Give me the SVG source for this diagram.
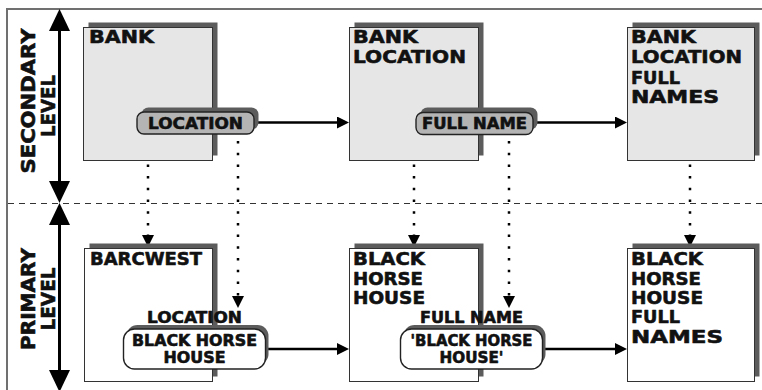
<svg xmlns="http://www.w3.org/2000/svg" width="762" height="390" viewBox="0 0 762 390">
  <style>
    .frame { fill: none; stroke: #707070; stroke-width: 2; }
    .divider { fill: none; stroke: #333; stroke-width: 1; stroke-dasharray: 6 5; }
    .shadow { fill: #5c5c5c; }
    .box2 { fill: #e6e6e6; stroke: #333; stroke-width: 1; }
    .box1 { fill: #ffffff; stroke: #333; stroke-width: 1; }
    .pill2 { fill: #b4b4b4; stroke: #222; stroke-width: 1.4; }
    .pill1 { fill: #ffffff; stroke: #222; stroke-width: 1.4; }
    .t { font-family: "DejaVu Sans", "Liberation Sans", sans-serif; font-weight: bold; fill: #111; stroke: #111; stroke-width: 0.6; stroke-linejoin: round; }
    .big { font-size: 18px; }
    .lbl { font-size: 16px; text-anchor: middle; }
    .val { font-size: 15px; text-anchor: middle; }
    .side { font-size: 19px; text-anchor: middle; }
    .flow { fill: none; stroke: #000; stroke-width: 2.5; marker-end: url(#head); }
    .dots { fill: none; stroke: #000; stroke-width: 2.5; stroke-dasharray: 2.5 9.2; marker-end: url(#head); }
    .axis { fill: none; stroke: #000; stroke-width: 3; marker-start: url(#bighead); marker-end: url(#bighead); }
  </style>
  <defs>
    <marker id="head" viewBox="0 0 12 12" markerWidth="12" markerHeight="12" refX="0" refY="6" orient="auto" markerUnits="userSpaceOnUse">
      <path d="M0,0 L12,6 L0,12 Z" fill="#000"/>
    </marker>
    <marker id="bighead" viewBox="0 0 22 21" markerWidth="22" markerHeight="21" refX="0" refY="10.5" orient="auto-start-reverse" markerUnits="userSpaceOnUse">
      <path d="M0,0 L22,10.5 L0,21 Z" fill="#000"/>
    </marker>
  </defs>

  <!-- frame and level divider -->
  <g id="frame">
    <path class="frame" d="M7,390 V9 H762"/>
    <line class="divider" x1="8" y1="203.5" x2="762" y2="203.5"/>
  </g>

  <!-- level axis -->
  <g id="axis">
    <line class="axis" x1="59.5" y1="31" x2="59.5" y2="181"/>
    <line class="axis" x1="59.5" y1="225" x2="59.5" y2="370"/>
    <text class="t side" transform="translate(35,101) rotate(-90)" textLength="145" lengthAdjust="spacingAndGlyphs">SECONDARY</text>
    <text class="t side" transform="translate(55,106) rotate(-90)" textLength="62" lengthAdjust="spacingAndGlyphs">LEVEL</text>
    <text class="t side" transform="translate(35,299) rotate(-90)" textLength="102" lengthAdjust="spacingAndGlyphs">PRIMARY</text>
    <text class="t side" transform="translate(55,299) rotate(-90)" textLength="63" lengthAdjust="spacingAndGlyphs">LEVEL</text>
  </g>

  <!-- connectors -->
  <g id="connectors">
    <line class="flow" x1="254" y1="122.5" x2="337" y2="122.5"/>
    <line class="flow" x1="533" y1="122.5" x2="615" y2="122.5"/>
    <line class="flow" x1="265" y1="349" x2="337" y2="349"/>
    <line class="flow" x1="542" y1="349" x2="615" y2="349"/>
    <line class="dots" x1="148" y1="164.4" x2="148" y2="235"/>
    <line class="dots" x1="414" y1="164.4" x2="414" y2="235"/>
    <line class="dots" x1="690" y1="164.4" x2="690" y2="235"/>
    <line class="dots" x1="238" y1="141" x2="238" y2="296"/>
    <line class="dots" x1="509" y1="141" x2="509" y2="296"/>
  </g>

  <!-- secondary level -->
  <g id="sec-bank">
    <rect class="shadow" x="88.5" y="22.5" width="129" height="133"/>
    <rect class="box2" x="83.5" y="27.5" width="129" height="133"/>
    <text class="t big" x="89" y="43" textLength="65" lengthAdjust="spacingAndGlyphs">BANK</text>
  </g>
  <g id="sec-location-key">
    <rect class="shadow" x="141.5" y="107.5" width="117" height="22" rx="7"/>
    <rect class="pill2" x="137" y="112" width="117" height="22" rx="7"/>
    <text class="t lbl" x="195.5" y="128.5" textLength="95" lengthAdjust="spacingAndGlyphs">LOCATION</text>
  </g>
  <g id="sec-bank-location">
    <rect class="shadow" x="354.5" y="22.5" width="129" height="133"/>
    <rect class="box2" x="349.5" y="27.5" width="129" height="133"/>
    <text class="t big" x="353" y="43" textLength="65" lengthAdjust="spacingAndGlyphs">BANK</text>
    <text class="t big" x="353" y="63" textLength="113" lengthAdjust="spacingAndGlyphs">LOCATION</text>
  </g>
  <g id="sec-fullname-key">
    <rect class="shadow" x="420.5" y="107.5" width="117" height="22" rx="7"/>
    <rect class="pill2" x="416" y="112.5" width="117" height="22" rx="7"/>
    <text class="t lbl" x="474.5" y="129" textLength="105" lengthAdjust="spacingAndGlyphs">FULL NAME</text>
  </g>
  <g id="sec-bank-location-fullnames">
    <rect class="shadow" x="632.5" y="22.5" width="127" height="133"/>
    <rect class="box2" x="627.5" y="27.5" width="127" height="133"/>
    <text class="t big" x="631" y="43" textLength="65" lengthAdjust="spacingAndGlyphs">BANK</text>
    <text class="t big" x="631" y="63" textLength="111" lengthAdjust="spacingAndGlyphs">LOCATION</text>
    <text class="t big" x="631" y="84" textLength="49" lengthAdjust="spacingAndGlyphs">FULL</text>
    <text class="t big" x="631" y="103" textLength="88" lengthAdjust="spacingAndGlyphs">NAMES</text>
  </g>

  <!-- primary level -->
  <g id="pri-barcwest">
    <rect class="shadow" x="89.5" y="243.5" width="128" height="133"/>
    <rect class="box1" x="84.5" y="248.5" width="128" height="133"/>
    <text class="t big" x="90" y="265" textLength="112" lengthAdjust="spacingAndGlyphs">BARCWEST</text>
  </g>
  <g id="pri-location-value">
    <text class="t lbl" x="194.5" y="323" textLength="95" lengthAdjust="spacingAndGlyphs">LOCATION</text>
    <rect class="shadow" x="126.5" y="325" width="142" height="40" rx="11"/>
    <rect class="pill1" x="123.5" y="329" width="142" height="40" rx="11"/>
    <text class="t val" x="194.5" y="345.5" textLength="125" lengthAdjust="spacingAndGlyphs">BLACK HORSE</text>
    <text class="t val" x="194.5" y="363" textLength="62" lengthAdjust="spacingAndGlyphs">HOUSE</text>
  </g>
  <g id="pri-black-horse-house">
    <rect class="shadow" x="354.5" y="243.5" width="129" height="133"/>
    <rect class="box1" x="349.5" y="248.5" width="129" height="133"/>
    <text class="t big" x="353" y="265" textLength="72" lengthAdjust="spacingAndGlyphs">BLACK</text>
    <text class="t big" x="353" y="285" textLength="70" lengthAdjust="spacingAndGlyphs">HORSE</text>
    <text class="t big" x="353" y="304" textLength="72" lengthAdjust="spacingAndGlyphs">HOUSE</text>
  </g>
  <g id="pri-fullname-value">
    <text class="t lbl" x="471.5" y="323" textLength="103" lengthAdjust="spacingAndGlyphs">FULL NAME</text>
    <rect class="shadow" x="403.5" y="325" width="142" height="40" rx="11"/>
    <rect class="pill1" x="400.5" y="329" width="142" height="40" rx="11"/>
    <text class="t val" x="471.5" y="345.5" textLength="122" lengthAdjust="spacingAndGlyphs">'BLACK HORSE</text>
    <text class="t val" x="471.5" y="363" textLength="64" lengthAdjust="spacingAndGlyphs">HOUSE'</text>
  </g>
  <g id="pri-black-horse-house-fullnames">
    <rect class="shadow" x="632.5" y="243.5" width="127" height="133"/>
    <rect class="box1" x="627.5" y="248.5" width="127" height="133"/>
    <text class="t big" x="631" y="265" textLength="72" lengthAdjust="spacingAndGlyphs">BLACK</text>
    <text class="t big" x="631" y="285" textLength="70" lengthAdjust="spacingAndGlyphs">HORSE</text>
    <text class="t big" x="631" y="304" textLength="72" lengthAdjust="spacingAndGlyphs">HOUSE</text>
    <text class="t big" x="631" y="323" textLength="49" lengthAdjust="spacingAndGlyphs">FULL</text>
    <text class="t big" x="631" y="343" textLength="92" lengthAdjust="spacingAndGlyphs">NAMES</text>
  </g>
</svg>
